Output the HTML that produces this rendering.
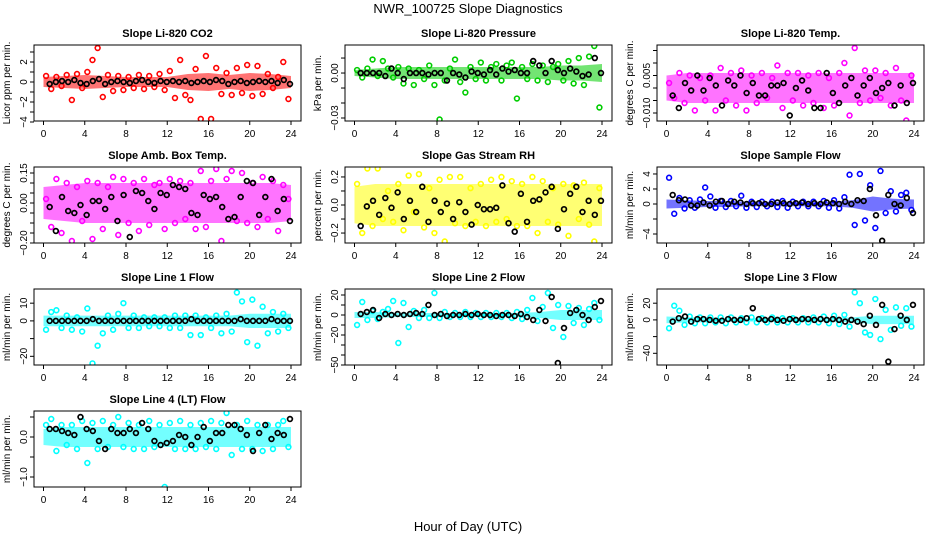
<!DOCTYPE html>
<html><head><meta charset="utf-8"><style>
html,body{margin:0;padding:0;background:#fff;}
svg{display:block;font-family:"Liberation Sans",sans-serif;}
</style></head><body>
<svg id="chart" width="936" height="540" viewBox="0 0 936 540" xmlns="http://www.w3.org/2000/svg">
<rect width="936" height="540" fill="#fff"/>
<text x="468" y="13" text-anchor="middle" font-size="13">NWR_100725  Slope Diagnostics</text>
<text x="468" y="531" text-anchor="middle" font-size="13">Hour of Day (UTC)</text>
</svg>
<script>
const titles = ["Slope Li-820 CO2","Slope Li-820 Pressure","Slope Li-820 Temp.","Slope Amb. Box Temp.","Slope Gas Stream RH","Slope Sample Flow","Slope Line 1 Flow","Slope Line 2 Flow","Slope Line 3 Flow","Slope Line 4 (LT) Flow"];
const yTitles = ["Licor ppm per min.","kPa per min.","degrees C per min.","degrees C per min.","percent per min.","ml/min per min.","ml/min per min.","ml/min per min.","ml/min per min.","ml/min per min."];
const colors = ["#ff0000","#00cd00","#ff00ff","#ff00ff","#ffff00","#0000ff","#00ffff","#00ffff","#00ffff","#00ffff"];
const yRanges = [[-3.9,3.7],[-0.032,0.0187],[-0.0132,0.0172],[-0.2,0.18],[-0.271,0.271],[-5.2,4.93],[-24.9,18],[-50,26],[-54,37],[-1.25,0.65]];
const yTicks = [[-4,-3,-2,-1,0,1,2,3],[-0.03,-0.02,-0.01,0,0.01],[-0.01,-0.005,0,0.005,0.01,0.015],[-0.2,-0.15,-0.1,-0.05,0,0.05,0.1,0.15],[-0.2,-0.1,0,0.1,0.2],[-4,-2,0,2,4],[-20,-10,0,10],[-50,-40,-30,-20,-10,0,10,20],[-40,-20,0,20],[-1,-0.5,0,0.5]];
const yTickLabels = [[[-4,"-4"],[-2,"-2"],[0,"0"],[2,"2"]],[[-0.03,"-0.03"],[0,"0.00"]],[[-0.01,"-0.010"],[0.005,"0.005"]],[[-0.2,"-0.20"],[0,"0.00"],[0.15,"0.15"]],[[-0.2,"-0.2"],[0,"0.0"],[0.2,"0.2"]],[[-4,"-4"],[0,"0"],[2,"2"],[4,"4"]],[[-20,"-20"],[0,"0"],[10,"10"]],[[-50,"-50"],[-20,"-20"],[0,"0"],[20,"20"]],[[-40,"-40"],[0,"0"],[20,"20"]],[[-1,"-1.0"],[0,"0.0"]]];
const xTicks = [0,4,8,12,16,20,24];

const colored = [
[0.6,-0.7,0.5,-0.4,0.7,-1.8,0.8,-0.6,1.0,2.2,3.4,-1.5,0.7,-0.9,0.6,-0.8,0.5,-0.6,0.7,-0.7,0.6,-0.5,0.8,-0.8,1.1,-1.6,2.2,-1.3,-1.8,1.3,-3.7,2.6,-3.7,1.4,-1.2,0.9,-1.3,1.4,-1.1,1.7,-1.4,1.6,-1.2,0.8,-0.6,0.5,2.0,-1.7],
[0.002,-0.003,0.003,0.009,-0.002,0.008,0.003,-0.003,0.004,-0.007,0.003,-0.008,0.002,-0.004,0.005,-0.008,-0.031,-0.005,0.003,0.009,-0.006,-0.013,0.004,-0.004,0.007,-0.005,0.004,0.006,-0.005,0.005,0.007,-0.017,0.004,-0.004,0.006,-0.005,0.005,-0.006,0.004,0.006,-0.005,0.008,-0.007,0.010,-0.008,0.011,0.018,-0.023],
[0.002,-0.004,0.006,-0.006,0.005,-0.009,0.004,-0.005,0.005,-0.009,0.008,-0.005,0.006,-0.007,0.007,-0.009,0.005,-0.006,0.006,-0.004,0.004,0.009,-0.008,0.006,-0.005,0.006,-0.007,0.005,-0.006,0.006,-0.008,0.004,-0.007,0.006,0.010,-0.011,0.016,-0.006,0.007,-0.005,0.007,-0.004,0.006,-0.007,0.008,-0.005,-0.013,0.005],
[0.02,-0.12,0.12,-0.15,0.10,-0.19,0.08,-0.09,0.11,-0.18,0.10,-0.13,0.08,0.13,-0.16,0.12,-0.10,0.10,-0.14,0.12,-0.11,0.09,0.10,-0.13,0.12,-0.10,0.11,-0.08,0.10,-0.13,0.16,-0.12,0.11,0.17,-0.19,0.12,0.16,-0.09,0.15,-0.10,0.10,-0.12,0.13,-0.08,0.11,-0.14,0.09,0.02],
[0.15,-0.2,0.26,-0.15,0.26,-0.1,0.1,-0.12,0.15,-0.18,0.21,-0.05,0.22,-0.16,0.12,-0.2,0.18,-0.26,0.2,-0.13,0.2,-0.15,0.12,-0.12,0.15,-0.15,0.18,-0.12,0.2,-0.1,0.17,-0.15,0.15,-0.15,0.2,-0.2,0.17,-0.12,0.12,-0.14,0.15,-0.22,0.14,-0.1,0.16,-0.14,-0.26,0.12],
[3.5,-1.3,0.8,-0.6,0.5,-0.5,0.6,2.2,1.0,-0.5,0.4,-0.4,0.4,-0.3,1.1,-0.5,0.3,-0.4,0.3,-0.3,0.3,-0.4,0.4,-0.5,0.3,-0.3,0.3,-0.3,0.3,-0.3,0.4,-0.5,0.5,-0.6,0.9,3.9,-2.8,4.0,-2.2,2.5,-3.2,4.4,-1.2,1.7,-1.0,1.2,1.5,-0.8],
[-5,5,6,-4,3,-5,2,-6,7,-24,-14,-7,3,-5,4,10,-4,3,-4,2,-3,2,-3,2,-4,3,-4,3,-8,3,-8,2,-4,3,-7,4,-6,16,11,-12,12,-14,8,-7,5,-6,4,-4],
[-10,13,-5,4,-4,3,6,14,-28,12,-12,4,-3,5,-3,22,-3,3,-2,2,-2,3,-2,2,-2,2,-2,2,-2,2,-3,3,-4,5,17,-6,8,22,-13,10,-22,9,-8,7,-10,6,12,-5],
[-10,17,11,-6,4,-4,3,-4,3,-3,3,-4,3,-3,2,-3,3,-3,2,-3,3,-3,2,-3,2,-3,2,-3,3,-3,4,-4,5,-5,6,-8,33,20,-15,-18,25,-23,12,-12,15,-7,14,-8],
[0.3,0.45,-0.35,0.3,-0.2,0.3,-0.3,0.4,-0.65,0.35,-0.3,0.4,-0.25,0.3,0.5,-0.25,0.35,-0.3,0.3,-0.3,0.4,-0.25,0.3,-1.25,0.35,-0.3,0.4,-0.3,0.3,-0.3,0.35,-0.25,0.4,-0.3,0.35,0.6,-0.45,0.3,-0.3,0.4,-0.3,0.3,-0.35,0.3,-0.3,0.3,0.4,-0.25]
];
const blacks = [
[-0.2,0,0.1,0,0.2,-0.1,-0.2,0.1,0.3,-0.2,0,0.1,0,-0.1,0.1,0.2,0,-0.1,0.1,0,0.1,0,0.1,-0.1,0,0.1,0,0.2,0.1,-0.2,0,0.1,-0.1,0,0.1,0,0.1,-0.1,0.2,-0.2],
[0,0,0,0,-0.002,0.003,0,-0.004,0,0,0,-0.001,0,0,-0.005,0,-0.001,-0.003,0.001,0,-0.001,0.002,-0.001,0.003,0.001,0.002,0,0,0.008,0.005,0,0.008,0.002,0,0.003,0.001,-0.002,-0.001,0.010,0],
[-0.003,-0.008,0.002,-0.001,0.005,-0.001,0.004,0.001,-0.007,0.003,0.001,0.005,-0.002,0.002,-0.003,-0.003,0.001,0.001,0.002,-0.011,0,0.003,-0.001,-0.008,-0.008,0.006,-0.002,-0.006,0.001,0.004,-0.003,0.001,0.004,-0.002,0,0.002,-0.007,0.001,-0.006,0.002],
[-0.02,-0.14,0.03,-0.04,-0.05,-0.01,-0.06,0.01,0.01,-0.03,0.03,-0.09,0.04,-0.17,0.06,0.05,0.01,-0.03,0.05,0.04,0.09,0.08,0.07,-0.05,-0.06,0.04,0.02,0.03,-0.02,-0.08,-0.07,0.03,0.11,0.10,-0.06,0.03,0.12,-0.04,0.02,-0.09],
[-0.15,-0.01,0.03,-0.07,0.05,-0.02,0.09,-0.1,0.03,-0.05,0.13,-0.12,0.03,-0.05,0.01,-0.1,0.02,-0.05,-0.14,0,-0.03,-0.03,-0.02,0.14,-0.13,-0.19,0.08,-0.12,0.03,0.04,0.09,0.13,-0.17,-0.03,0.08,0.13,-0.05,0.03,-0.07,0.03],
[1.2,0.5,0.6,-0.2,-0.2,0.2,-0.2,0.3,0.4,0,0.3,0.2,0,0.1,0.1,0,0,0.2,0.1,0,0.1,0.2,0,0.1,0,0.2,0.1,0,0.3,0,0.5,0.4,2.0,-1.5,-4.9,1.2,0,-0.2,0.8,-1.2],
[0,0,0,0,0,0,0,1,0,0,0,0,0,0,0,0,0,0,0,0,0,0,0,1,0,0,0,0,0,0,0,1,0,0,0,0,1,0,0,0],
[1,3,5,-3,1,0,1,0,1,2,1,10,0,1,-1,0,0,1,0,1,0,0,-1,0,0,-1,1,-2,-5,5,-6,18,-48,-13,2,5,0,-5,8,14],
[-2,2,4,-2,1,1,0,-1,-1,1,0,0,2,14,1,0,1,0,-1,1,0,1,1,0,1,0,1,0,-2,0,-2,-5,5,-6,18,-50,-11,5,0,18],
[0.2,0.2,0.15,0.1,0.05,0.5,0.2,0.15,-0.1,-0.3,0.2,0.1,0.1,0.2,0.1,0.35,0.2,-0.1,-0.2,-0.15,-0.1,0.05,0,-0.2,0,0.25,-0.1,0.1,0.1,0.3,0.3,0.2,0.05,-0.35,0.1,0.3,-0.05,0.1,0.05,0.45]
];
const bands = [
[0.5,0.6,0.7,0.6,0.5,0.5,0.5,0.8,0.9,0.7,0.9,0.8,0.6],
[0.002,0.003,0.004,0.004,0.004,0.004,0.004,0.004,0.004,0.004,0.005,0.005,0.006],
[0.005,0.006,0.006,0.006,0.006,0.006,0.006,0.006,0.006,0.006,0.006,0.006,0.006],
[0.08,0.09,0.1,0.1,0.1,0.1,0.1,0.1,0.1,0.1,0.1,0.1,0.09],
[0.13,0.15,0.15,0.15,0.15,0.15,0.15,0.15,0.15,0.15,0.15,0.15,0.15],
[0.6,0.5,0.4,0.4,0.3,0.3,0.3,0.3,0.3,0.5,1.0,0.7,0.6],
[3,3,3,3,3,3,3,3,3,3,4,4,4],
[3,3,2,2,2,2,2,2,2,3,5,5,5],
[4,3,3,2,2,2,2,2,2,3,5,5,5],
[0.2,0.25,0.25,0.25,0.25,0.25,0.25,0.25,0.25,0.25,0.25,0.25,0.25]
];

const NS = "http://www.w3.org/2000/svg";
const svg = document.getElementById('chart');
function mk(tag, attrs, parent){ const e=document.createElementNS(NS,tag); for(const k in attrs) e.setAttribute(k,attrs[k]); (parent||svg).appendChild(e); return e; }
const colLeft=[34,345,657], rowTop=[45,167,289,411], W=267, H=76;

titles.forEach((t,p)=>{
  const L=colLeft[p%3], T=rowTop[Math.floor(p/3)], B=T+H;
  const g=mk('g',{});
  
  
  const [y0,y1]=yRanges[p];
  const xS=h=>L+9.5+h*(247.5/24);
  const yS=v=>B-(v-y0)/(y1-y0)*H;
  const clip='clip'+p;
  const cp=mk('clipPath',{id:clip},g); mk('rect',{x:L,y:T,width:W,height:H},cp);
  const plot=mk('g',{'clip-path':'url(#'+clip+')'},g);
  const bd=bands[p]; let pts=[];
  bd.forEach((w,i)=>pts.push(xS(i*24/(bd.length-1))+','+yS(w)));
  for(let i=bd.length-1;i>=0;i--) pts.push(xS(i*24/(bd.length-1))+','+yS(-bd[i]));
  const band=mk('polygon',{points:pts.join(' '),fill:colors[p],opacity:0.55},plot);
  
  
  colored[p].forEach((v,i)=>{
    const c=mk('circle',{cx:xS((i+0.5)*24/colored[p].length),cy:yS(v),r:2.4,fill:'none',stroke:colors[p],'stroke-width':1.6},plot);
    
    
  });
  blacks[p].forEach((v,i)=>{
    const c=mk('circle',{cx:xS(0.6+i*(23.3/(blacks[p].length-1))),cy:yS(v),r:2.4,fill:'none',stroke:'#000','stroke-width':1.7},plot);
    
    
  });
  const box=mk('rect',{x:L,y:T,width:W,height:H,fill:'none',stroke:'#000','stroke-width':1},g);
  
  
  const tt=mk('text',{x:L+W/2,y:T-8,'text-anchor':'middle','font-size':11,'font-weight':'bold'},g); tt.textContent=t;
  
  
  mk('line',{x1:xS(0),x2:xS(24),y1:B,y2:B,stroke:'#000'},g);
  xTicks.forEach(h=>{
    mk('line',{x1:xS(h),x2:xS(h),y1:B,y2:B+4,stroke:'#000'},g);
    const lb=mk('text',{x:xS(h),y:B+16,'text-anchor':'middle','font-size':10},g); lb.textContent=h;
    
    
  });
  yTicks[p].forEach(v=>{ const y=yS(v); if(y<T-1||y>B+1) return; mk('line',{x1:L-4,x2:L,y1:y,y2:y,stroke:'#000'},g); });
  yTickLabels[p].forEach(([v,s])=>{
    const y=yS(v);
    const lb=mk('text',{x:0,y:0,'text-anchor':'middle','font-size':10,transform:`translate(${L-7},${y}) rotate(-90)`},g); lb.textContent=s.replace('-','\u2212');
    
    
  });
  const yt=mk('text',{x:0,y:0,'text-anchor':'middle','font-size':10,transform:`translate(${L-24},${T+H/2}) rotate(-90)`},g); yt.textContent=yTitles[p];
  
  
});
</script>
</body></html>
